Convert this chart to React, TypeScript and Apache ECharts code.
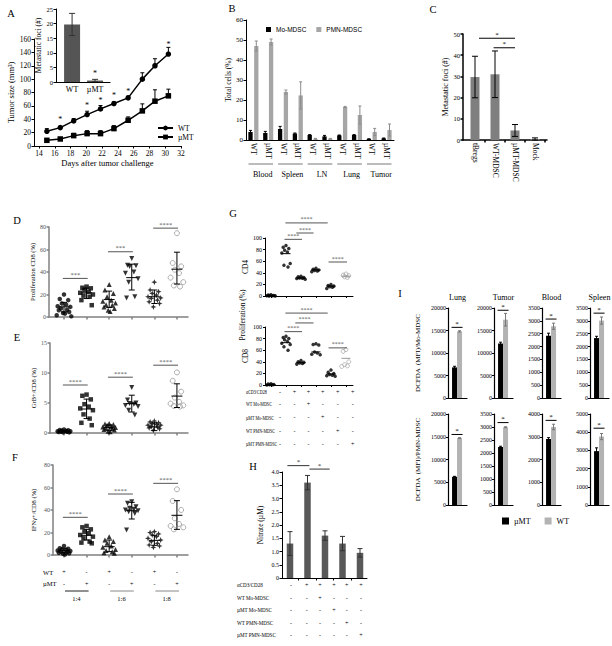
import React, { useEffect, useRef } from 'react';
import * as echarts from 'echarts';

const SERIF = '"Liberation Serif","Times New Roman",serif';
const SANS = '"Liberation Sans",Arial,sans-serif';

// ---------- Panel A ----------
const aDays = [15, 16.7, 18.4, 20.1, 21.8, 23.5, 25.3, 27.1, 28.7, 30.4];
const aWT = [22, 27.5, 37.5, 47, 55.5, 63.5, 72, 100, 120, 137.5];
const aWTErr = [4, 2, 3.5, 5, 5, 2.5, 2.5, 9.5, 10.5, 10];
const aMT = [8.5, 10.5, 15.5, 18.5, 18.5, 26, 38.5, 52.5, 67, 75];
const aMTErr = [1.5, 1.5, 3.5, 4.5, 4.5, 4.5, 5, 10.5, 17, 10];
const aStarDays = [16.7, 20.1, 21.8, 23.5, 25.3, 30.4];
const aStarY = [40, 60, 68.5, 75, 82, 152];
const aTicks = [14, 16, 18, 20, 22, 24, 26, 28, 30, 32];
const insetCats = ['WT', 'µMT'];
const insetVals = [19.7, 0.5];
const insetErr = [3.8, 0.4];

// ---------- Panel B ----------
const bLabels = ['WT', 'µMT', 'WT', 'µMT', 'WT', 'µMT', 'WT', 'µMT', 'WT', 'µMT'];
const bGroups = ['Blood', 'Spleen', 'LN', 'Lung', 'Tumor'];
const bMo = [4, 3.5, 5.5, 3.2, 2.5, 1.8, 2.3, 2.5, 0.5, 0.8];
const bMoErr = [0.8, 0.8, 1.3, 0.3, 0.2, 0.5, 0.2, 0.2, 0.1, 0.2];
const bPMN = [47, 49, 24, 22.3, 0.6, 0.6, 16.5, 12.5, 4, 5];
const bPMNErr = [2.5, 1.5, 1, 6.8, 0.2, 0.2, 0.3, 4.5, 1.8, 3];

// ---------- Panel C ----------
const cCats = ['tBregs', 'WT-MDSC', 'µMT-MDSC', 'Mock'];
const cVals = [29.7, 31, 4.5, 0.5];
const cErr = [9.8, 11, 2.8, 0.5];
const cSig = [[0.2, 2.0, 48], [0.93, 2.0, 43.5]];

// ---------- Panel D ----------
const dG = [
  [20, 16, 15, 12, 11, 9.5, 9, 7.5, 6.5, 6, 4.5, 3.5, 3, 1.5, 0.6],
  [27, 26, 25.5, 24, 22.5, 21.5, 20, 19, 18, 15, 10.5],
  [29, 24, 21, 18, 15, 14, 12.5, 11, 10.5, 9, 7.5, 6, 5],
  [52, 46, 45.5, 45, 40, 39, 34, 31, 18, 17],
  [31, 24, 22.5, 21, 19.5, 18, 17, 16.5, 15, 13.5, 12, 9],
  [74.5, 48, 45, 42, 39, 35, 31, 28, 27],
];
const dMean = [9, 21.5, 15.5, 35, 18, 42.5];
const dLo = [4.5, 16.4, 8.4, 24, 12, 29.3];
const dHi = [13, 25.7, 23, 47, 24, 57.6];
const dSig = [[0.95, 2.05, 34.3], [2.95, 4.05, 58], [4.95, 6.05, 79]];
const dSigLbl = ['***', '***', '****'];

// ---------- Panel E ----------
const eG = [
  [0.6, 0.5, 0.45, 0.4, 0.35, 0.3, 0.3, 0.25, 0.2, 0.15, 0.1, 0.1],
  [6.4, 6.2, 5.6, 4.8, 4.4, 4.1, 3.8, 3.1, 2.4, 1.7, 1.3],
  [1.6, 1.5, 1.4, 1.3, 1.1, 1.0, 0.9, 0.8, 0.7, 0.6, 0.5, 0.3, 0.2],
  [7.6, 5.5, 5.0, 4.9, 4.8, 4.6, 4.4, 3.8, 3.0],
  [2.0, 1.85, 1.7, 1.55, 1.45, 1.3, 1.3, 1.1, 1.0, 0.85, 0.7, 0.45],
  [10.1, 8.7, 6.9, 5.9, 5.2, 4.9, 4.6, 4.5, 4.4],
];
const eMean = [0.3, 4.0, 0.9, 4.9, 1.0, 6.15];
const eLo = [0.15, 2.4, 0.45, 3.5, 0.4, 4.25];
const eHi = [0.45, 5.65, 1.35, 6.3, 1.7, 8.2];
const eSig = [[0.95, 2.05, 8.0], [2.95, 4.05, 9.3], [4.95, 6.05, 11.3]];
const eSigLbl = ['****', '****', '****'];

// ---------- Panel F ----------
const fG = [
  [8, 6, 5.5, 5, 4.5, 4, 3.5, 3, 2.5, 2, 1.5, 1, 0.5],
  [25.8, 24.6, 22.8, 20.7, 19.3, 17.8, 16.3, 14.8, 11.9, 11, 10.4],
  [16.3, 13.3, 11.9, 10.4, 8, 6.8, 5, 3.9, 3, 2, 1.5],
  [47.4, 46, 43, 41.5, 40.6, 40, 39.4, 38.5, 37, 22.2],
  [20.7, 19.9, 18.7, 17.8, 16.3, 14.8, 13.3, 11.9, 10.4, 8.9, 8, 6.8],
  [58.4, 48, 40, 32.6, 27.6, 25.8, 24.6, 22.8],
];
const fMean = [3.9, 17.5, 7.4, 39.4, 13, 35.3];
const fLo = [2, 13.3, 3, 32, 8.6, 22.8];
const fHi = [6, 22.8, 13.3, 46.8, 17.5, 48.3];
const fSig = [[0.95, 2.05, 33.5], [2.95, 4.05, 54.2], [4.95, 6.05, 63.7]];
const fSigLbl = ['****', '****', '****'];
const fRowWT = ['+', '-', '+', '-', '+', '-'];
const fRowMT = ['-', '+', '-', '+', '-', '+'];
const fRatios = ['1:4', '1:6', '1:8'];

// ---------- Panel G ----------
const g4G = [[2, 1.5, 1, 0.8, 0.5, 0.3, 0.2, 0], [87, 84, 82, 79, 76, 74, 56, 53, 50], [34, 33, 32, 31, 30.5, 30, 29], [48, 46, 45, 44, 43, 42], [20, 18, 17, 16, 15, 13], [38, 36, 35, 33, 32]];
const g4Mean = [0.6, 73, 31, 45, 17, 34];
const g4Sig = [[1.9, 3.07, 97.7], [2.69, 3.84, 108.6], [1.96, 4.78, 126], [4.84, 6.07, 58.6]];
const g8G = [[2, 1.5, 1, 0.5, 0.3, 0], [84, 82, 80, 78, 75, 72, 70, 66, 60], [42, 40, 39, 38, 37, 36], [71, 70, 69, 57, 55, 53, 52], [26, 22, 20, 18, 17, 16, 15], [61, 58, 40, 35, 33, 32]];
const g8Mean = [0.8, 73, 38.5, 57, 19, 46];
const g8Sig = [[1.9, 3.07, 92], [2.62, 3.84, 107], [1.96, 4.78, 124], [4.84, 6.07, 64]];
const gSigLbl = ['****', '****', '****', '****'];
const tableRows = ['αCD3/CD28', 'WT Mo-MDSC', 'µMT Mo-MDSC', 'WT PMN-MDSC', 'µMT PMN-MDSC'];
const tableSigns = [
  ['-', '+', '+', '+', '+', '+'],
  ['-', '-', '+', '-', '-', '-'],
  ['-', '-', '-', '+', '-', '-'],
  ['-', '-', '-', '-', '+', '-'],
  ['-', '-', '-', '-', '-', '+'],
];

// ---------- Panel H ----------
const hVals = [1.3, 3.6, 1.6, 1.3, 0.95];
const hErr = [0.45, 0.27, 0.18, 0.27, 0.16];
const hSig = [[0.85, 2.11, 4.24], [2.11, 3.27, 4.11]];

// ---------- Panel I ----------
const iTissues = ['Lung', 'Tumor', 'Blood', 'Spleen'];
const iMoMT = [6800, 12100, 2420, 2330];
const iMoMTErr = [250, 300, 100, 70];
const iMoWT = [14800, 17400, 2790, 3010];
const iMoWTErr = [150, 1400, 120, 140];
const iMoSig = [15700, 19500, 3070, 3300];
const iMoMax = [20000, 20000, 3500, 3500];
const iMoInt = [5000, 5000, 500, 500];
const iPmnMT = [6200, 2230, 2900, 2960];
const iPmnMTErr = [100, 30, 60, 180];
const iPmnWT = [14700, 2990, 3430, 3760];
const iPmnWTErr = [100, 20, 120, 170];
const iPmnSig = [15500, 3170, 3720, 4220];
const iPmnMax = [20000, 3500, 4000, 5000];
const iPmnInt = [5000, 500, 1000, 1000];

const JIT = [0, -0.22, 0.22, -0.11, 0.11, -0.33, 0.33, -0.16, 0.16, -0.27, 0.27, -0.05, 0.05, -0.38, 0.38];
const STAR = 'path://M0,-10L2.8,-2.8L10,0L2.8,2.8L0,10L-2.8,2.8L-10,0L-2.8,-2.8Z';

function axis(o: any) {
  const color = o.color ?? '#000', lw = o.lw ?? 1, fs = o.fs ?? 7, lc = o.lc ?? '#000';
  const res: any = {
    type: 'value', min: o.min, max: o.max,
    axisLine: { show: o.line !== false, onZero: false, lineStyle: { color, width: lw } },
    axisTick: { show: o.tick !== false, length: o.tickLen ?? 2.5, inside: false, lineStyle: { color, width: lw } },
    axisLabel: { show: o.label !== false, fontFamily: SERIF, fontSize: fs, color: lc, margin: o.margin ?? 3 },
    splitLine: { show: false },
  };
  if (o.interval != null) res.interval = o.interval;
  if (o.ticks) res.axisTick.customValues = o.ticks;
  if (o.labels) res.axisLabel.customValues = o.labels;
  res.axisLabel.formatter = o.fmt ? o.fmt : (v: number) => String(v);
  if (o.rotate != null) res.axisLabel.rotate = o.rotate;
  if (o.name) {
    res.name = o.name; res.nameLocation = 'middle'; res.nameGap = o.nameGap;
    res.nameTextStyle = { fontFamily: SERIF, fontSize: o.nameFs ?? 8, color: '#000' };
  }
  return res;
}

function tstyle(text: string, fs: number, fill = '#000', align = 'center', va = 'middle', font = SERIF) {
  return { text, fontFamily: font, fontSize: fs, fill, align, textAlign: align, verticalAlign: va, textVerticalAlign: va };
}

function buildOption() {
  const grids: any[] = [], xA: any[] = [], yA: any[] = [], S: any[] = [], G: any[] = [];
  const add = (rect: any, x: any, y: any) => {
    const i = grids.length;
    grids.push({ ...rect });
    xA.push({ ...x, gridIndex: i });
    yA.push({ ...y, gridIndex: i });
    return i;
  };
  const txt = (x: number, y: number, text: string, fs: number, align = 'center', extra: any = {}) =>
    G.push({ type: 'text', x, y, silent: true, ...extra, style: tstyle(text, fs, extra.fill || '#000', align, 'middle', extra.font || SERIF) });
  const hline = (x1: number, x2: number, y: number, color = '#000', w = 1) =>
    G.push({ type: 'line', silent: true, shape: { x1, y1: y, x2, y2: y }, style: { stroke: color, lineWidth: w } });

  const barS = (name: string | undefined, g: number, pts: number[][], off: number, w: number, color: string) => ({
    type: 'custom', name, xAxisIndex: g, yAxisIndex: g, silent: true, clip: false, z: 2, data: pts,
    itemStyle: { color },
    renderItem: (p: any, api: any) => {
      const x = api.value(0), v = api.value(1);
      const a = api.coord([x, 0]), b = api.coord([x, v]);
      return { type: 'rect', shape: { x: a[0] + off - w / 2, y: b[1], width: w, height: a[1] - b[1] }, style: { fill: color } };
    },
  });
  const errS = (g: number, pts: number[][], o: any) => ({
    type: 'custom', xAxisIndex: g, yAxisIndex: g, silent: true, clip: false, z: 3, data: pts,
    renderItem: (p: any, api: any) => {
      const x = api.value(0), lo = api.value(1), hi = api.value(2);
      const a = api.coord([x, lo]), b = api.coord([x, hi]);
      const cx = a[0] + (o.off || 0);
      const st = { stroke: o.color, lineWidth: o.lw || 1 };
      const ch: any[] = [
        { type: 'line', shape: { x1: cx, y1: a[1], x2: cx, y2: b[1] }, style: st },
        { type: 'line', shape: { x1: cx - o.cap / 2, y1: b[1], x2: cx + o.cap / 2, y2: b[1] }, style: st },
      ];
      if (!o.upOnly) ch.push({ type: 'line', shape: { x1: cx - o.cap / 2, y1: a[1], x2: cx + o.cap / 2, y2: a[1] }, style: st });
      return { type: 'group', children: ch };
    },
  });
  const meanS = (g: number, pts: number[][], meanW: number, capW: number, withSD: boolean, colors: string[]) => ({
    type: 'custom', xAxisIndex: g, yAxisIndex: g, silent: true, clip: false, z: 4, data: pts,
    renderItem: (p: any, api: any) => {
      const x = api.value(0), m = api.value(1);
      const c = api.coord([x, m]);
      const st = { stroke: colors[p.dataIndex] || '#000', lineWidth: 1 };
      const ch: any[] = [{ type: 'line', shape: { x1: c[0] - meanW / 2, y1: c[1], x2: c[0] + meanW / 2, y2: c[1] }, style: st }];
      if (withSD) {
        const a = api.coord([x, api.value(2)]), b = api.coord([x, api.value(3)]);
        ch.push({ type: 'line', shape: { x1: c[0], y1: a[1], x2: c[0], y2: b[1] }, style: st });
        ch.push({ type: 'line', shape: { x1: c[0] - capW / 2, y1: a[1], x2: c[0] + capW / 2, y2: a[1] }, style: st });
        ch.push({ type: 'line', shape: { x1: c[0] - capW / 2, y1: b[1], x2: c[0] + capW / 2, y2: b[1] }, style: st });
      }
      return { type: 'group', children: ch };
    },
  });
  const sigS = (g: number, pts: number[][], labels: string[], o: any) => ({
    type: 'custom', xAxisIndex: g, yAxisIndex: g, silent: true, clip: false, z: 4, data: pts,
    renderItem: (p: any, api: any) => {
      const a = api.coord([api.value(0), api.value(2)]), b = api.coord([api.value(1), api.value(2)]);
      const ext = o.ext || 0;
      return {
        type: 'group', children: [
          { type: 'line', shape: { x1: a[0] - ext, y1: a[1], x2: b[0] + ext, y2: b[1] }, style: { stroke: o.color, lineWidth: o.lw || 1 } },
          { type: 'text', x: (a[0] + b[0]) / 2, y: a[1] - (o.dy ?? 0), style: tstyle(labels[p.dataIndex], o.fs, o.tc || o.color, 'center', 'bottom') },
        ],
      };
    },
  });
  const textS = (g: number, pts: number[][], text: string, fs: number) => ({
    type: 'custom', xAxisIndex: g, yAxisIndex: g, silent: true, clip: false, z: 4, data: pts,
    renderItem: (p: any, api: any) => {
      const c = api.coord([api.value(0), api.value(1)]);
      return { type: 'text', x: c[0], y: c[1], style: tstyle(text, fs) };
    },
  });
  const scatS = (g: number, pts: number[][], st: any) => ({
    type: 'scatter', xAxisIndex: g, yAxisIndex: g, silent: true, z: 3, data: pts,
    symbol: st.symbol, symbolSize: st.size, symbolRotate: st.rotate || 0,
    itemStyle: st.open ? { color: 'rgba(0,0,0,0)', borderColor: st.color, borderWidth: 1 } : { color: st.color || '#000' },
  });
  const jitter = (gx: number, vals: number[], sc: number) => vals.map((v, i) => [gx + JIT[i % JIT.length] * sc, v]);

  // ======== A ========
  const gA = add({ left: 34, top: 39, width: 147, height: 107 },
    axis({ min: 13.37, max: 32, ticks: aTicks, labels: aTicks, fs: 7.5, name: 'Days after tumor challenge', nameGap: 12, nameFs: 8.5 }),
    axis({ min: 0, max: 160, interval: 20, fs: 7.5, name: 'Tumor size (mm³)', nameGap: 16, nameFs: 8.5 }));
  S.push({ type: 'line', name: 'WT', xAxisIndex: gA, yAxisIndex: gA, data: aDays.map((d, i) => [d, aWT[i]]), symbol: 'circle', symbolSize: 5.5, itemStyle: { color: '#000' }, lineStyle: { color: '#000', width: 1.5 }, z: 3 });
  S.push({ type: 'line', name: 'µMT', xAxisIndex: gA, yAxisIndex: gA, data: aDays.map((d, i) => [d, aMT[i]]), symbol: 'rect', symbolSize: 5.5, itemStyle: { color: '#000' }, lineStyle: { color: '#000', width: 1.5 }, z: 3 });
  S.push(errS(gA, aDays.map((d, i) => [d, aWT[i], aWT[i] + aWTErr[i]]), { cap: 4, color: '#000', upOnly: true }));
  S.push(errS(gA, aDays.map((d, i) => [d, aMT[i], aMT[i] + aMTErr[i]]), { cap: 4, color: '#000', upOnly: true }));
  S.push(textS(gA, aStarDays.map((d, i) => [d, aStarY[i]]), '*', 8));

  const gIn = add({ left: 56, top: 9, width: 54, height: 73 },
    axis({ min: 0.3, max: 2.65, tick: false, labels: [1, 2], fmt: (v: number) => insetCats[Math.round(v) - 1], fs: 8 }),
    axis({ min: 0, max: 25, interval: 5, fs: 6.5, name: 'Metastatic foci (#)', nameGap: 10, nameFs: 7.5 }));
  S.push(barS(undefined, gIn, insetVals.map((v, i) => [i + 1, v]), 0, 16, '#555'));
  S.push(errS(gIn, insetVals.map((v, i) => [i + 1, v - insetErr[i], v + insetErr[i]]), { cap: 6, color: '#333' }));
  S.push(textS(gIn, [[2, 3]], '*', 8));

  // ======== B ========
  const bX = bLabels.map((_, i) => i + 1);
  const gB = add({ left: 246, top: 20, width: 148, height: 120 },
    axis({ min: 0.5, max: 10.5, tick: false, labels: bX, fmt: (v: number) => bLabels[Math.round(v) - 1], rotate: -90, fs: 7.5 }),
    axis({ min: 0, max: 60, interval: 10, fs: 7, name: 'Total cells (%)', nameGap: 10, nameFs: 7.5 }));
  S.push(barS('Mo-MDSC', gB, bX.map((x, i) => [x, bMo[i]]), -2.9, 4.3, '#000'));
  S.push(barS('PMN-MDSC', gB, bX.map((x, i) => [x, bPMN[i]]), 2.9, 4.3, '#a6a6a6'));
  S.push(errS(gB, bX.map((x, i) => [x, bMo[i] - bMoErr[i], bMo[i] + bMoErr[i]]), { off: -2.9, cap: 3, color: '#000' }));
  S.push(errS(gB, bX.map((x, i) => [x, bPMN[i] - bPMNErr[i], bPMN[i] + bPMNErr[i]]), { off: 2.9, cap: 3, color: '#8c8c8c' }));
  const bpx = (v: number) => 246 + (v - 0.5) / 10 * 148;
  bGroups.forEach((name, k) => {
    hline(bpx(2 * k + 0.5) + 2.5, bpx(2 * k + 2.5) - 2.5, 164, '#555', 0.8);
    txt(bpx(2 * k + 1.5) + 2, 174, name, 8);
  });

  // ======== C ========
  const gC = add({ left: 463, top: 34, width: 84, height: 106 },
    axis({ min: -0.6, max: 3.6, ticks: [0.5, 1.5, 2.5, 3.5], labels: [0, 1, 2, 3], fmt: (v: number) => cCats[Math.round(v)], rotate: -90, fs: 7.5, lw: 1.5 }),
    axis({ min: 0, max: 50, interval: 10, fs: 6.5, lw: 1.5, name: 'Metastatic foci (#)', nameGap: 13, nameFs: 8 }));
  S.push(barS(undefined, gC, cVals.map((v, i) => [i, v]), 0, 9, '#7f7f7f'));
  S.push(errS(gC, cVals.map((v, i) => [i, Math.max(0, v - cErr[i]), v + cErr[i]]), { cap: 6, color: '#000' }));
  S.push(sigS(gC, cSig, ['*', '*'], { color: '#000', fs: 7, dy: 0 }));

  // ======== D / E / F ========
  const dStyles = [
    { symbol: 'circle', size: 4.5 },
    { symbol: 'rect', size: 4.5 },
    { symbol: 'triangle', size: 5 },
    { symbol: 'triangle', size: 5, rotate: 180 },
    { symbol: STAR, size: 6 },
    { symbol: 'circle', size: 5, open: true, color: '#999' },
  ];
  const scatterPanel = (left: number, top: number, yMax: number, yInt: number, pts: number[][], mean: number[], lo: number[], hi: number[], sig: number[][], sigLbl: string[], name: string, nameGap: number) => {
    const xmin = 1 - (64 - left) / 22.6;
    const g = add({ left, top, width: 188 - left, height: 90 },
      axis({ min: xmin, max: 6.49, ticks: [1, 2, 3, 4, 5, 6], label: false, color: '#808080', lw: 1.5 }),
      axis({ min: 0, max: yMax, interval: yInt, fs: 6, color: '#808080', lw: 1.5, lc: '#555', name, nameGap, nameFs: 6.5 }));
    pts.forEach((vals, k) => S.push(scatS(g, jitter(k + 1, vals, 0.85), dStyles[k])));
    S.push(meanS(g, mean.map((m, k) => [k + 1, m, lo[k], hi[k]]), 11, 6, true, ['#000', '#000', '#000', '#000', '#000', '#000']));
    S.push(sigS(g, sig, sigLbl, { color: '#555', fs: 6.5, dy: 0.5 }));
    return g;
  };
  scatterPanel(49, 227, 80, 20, dG, dMean, dLo, dHi, dSig, dSigLbl, 'Proliferation CD8 (%)', 12);
  scatterPanel(50, 343, 15, 5, eG, eMean, eLo, eHi, eSig, eSigLbl, 'GrB+/CD8 (%)', 11.5);
  scatterPanel(53, 465, 80, 20, fG, fMean, fLo, fHi, fSig, fSigLbl, 'IFNγ+/CD8 (%)', 16);
  const fpx = (v: number) => 64 + (v - 1) * 22.6;
  txt(43, 572, 'WT', 6.5, 'left');
  txt(43, 583.5, 'µMT', 6.5, 'left');
  fRowWT.forEach((s, k) => txt(fpx(k + 1), 572, s, 6));
  fRowMT.forEach((s, k) => txt(fpx(k + 1), 583.5, s, 6));
  fRatios.forEach((r, k) => {
    hline(fpx(2 * k + 1) + 1, fpx(2 * k + 2) + 2, 591, k === 0 ? '#222' : '#888', 1);
    txt((fpx(2 * k + 1) + fpx(2 * k + 2)) / 2 + 1, 598.5, r, 6.5);
  });

  // ======== G ========
  const gStyles = [0, 1, 2, 3, 4].map(() => ({ symbol: 'circle', size: 3.5 })).concat([{ symbol: 'circle', size: 4, open: true, color: '#aaa' } as any]);
  const gPanel = (top: number, pts: number[][], mean: number[], sig: number[][], name: string) => {
    const g = add({ left: 265, top, width: 88, height: 58 },
      axis({ min: 0.6, max: 6.47, ticks: [1, 2, 3, 4, 5, 6], label: false, tickLen: 2 }),
      axis({ min: 0, max: 100, interval: 20, fs: 6, tickLen: 2, name, nameGap: 7, nameFs: 7.5 }));
    pts.forEach((vals, k) => S.push(scatS(g, jitter(k + 1, vals, 0.85), gStyles[k])));
    S.push(meanS(g, mean.map((m, k) => [k + 1, m]), 9, 0, false, ['#000', '#000', '#000', '#000', '#000', '#999']));
    S.push(sigS(g, sig, gSigLbl, { color: '#555', fs: 6, dy: 0.5 }));
  };
  gPanel(238, g4G, g4Mean, g4Sig, 'CD4');
  gPanel(327, g8G, g8Mean, g8Sig, 'CD8');
  G.push({ type: 'text', x: 242, y: 315, rotation: Math.PI / 2, silent: true, style: tstyle('Proliferation (%)', 7.5) });
  const gCols = [280, 294.5, 308.5, 322.8, 337.7, 352.7];
  const gRows = [391.7, 404, 417.3, 430.7, 444];
  tableRows.forEach((r, ri) => {
    txt(246, gRows[ri], r, 6, 'left', { scaleX: 0.68 });
    tableSigns[ri].forEach((s, ci) => txt(gCols[ci], gRows[ri], s, 6));
  });

  // ======== H ========
  const hX = hVals.map((_, i) => i + 1);
  const gH = add({ left: 282, top: 472, width: 85, height: 106 },
    axis({ min: 0.543, max: 5.4, ticks: [1.5, 2.5, 3.5, 4.5], label: false, tickLen: 2.5 }),
    axis({ min: 0, max: 4, interval: 0.5, fs: 6, fmt: (v: number) => (v === 0 ? '0' : v.toFixed(1)), name: 'Nitrate (µM)', nameGap: 18, nameFs: 7.5 }));
  S.push(barS(undefined, gH, hX.map((x, i) => [x, hVals[i]]), 0, 6.5, '#595959'));
  S.push(errS(gH, hX.map((x, i) => [x, hVals[i] - hErr[i], hVals[i] + hErr[i]]), { cap: 5, color: '#333' }));
  S.push(sigS(gH, hSig, ['*', '*'], { color: '#333', fs: 7, dy: 0 }));
  const hCols = [291, 306.7, 320, 334, 346.7, 361];
  const hRows = [585, 597.5, 610, 622.5, 635];
  tableRows.forEach((r, ri) => {
    txt(237, hRows[ri], r, 6, 'left', { scaleX: 0.85 });
    tableSigns[ri].forEach((s, ci) => txt(hCols[ci], hRows[ri], s, 6));
  });

  // ======== I ========
  const iLefts = [448, 494, 542, 590];
  const iPanel = (left: number, top: number, height: number, max: number, interval: number, mt: number, mtErr: number, wt: number, wtErr: number, sigY: number, name?: string) => {
    const g = add({ left, top, width: 19, height },
      axis({ min: 0, max: 2.1, tick: false, label: false, lw: 1.2 }),
      axis({ min: 0, max, interval, fs: 6, tickLen: 2, lw: 1.2, margin: 2, name, nameGap: 27, nameFs: 7 }));
    S.push(barS('I-µMT', g, [[1, mt]], -2.5, 5, '#000'));
    S.push(barS('I-WT', g, [[1, wt]], 2.5, 5, '#b3b3b3'));
    S.push(errS(g, [[1, mt - mtErr, mt + mtErr]], { off: -2.5, cap: 3, color: '#000' }));
    S.push(errS(g, [[1, wt - wtErr, wt + wtErr]], { off: 2.5, cap: 3, color: '#777' }));
    S.push(sigS(g, [[1, 1, sigY]], ['*'], { ext: 5.5, color: '#000', fs: 7, dy: 0 }));
  };
  iTissues.forEach((t, k) => {
    iPanel(iLefts[k], 308, 90, iMoMax[k], iMoInt[k], iMoMT[k], iMoMTErr[k], iMoWT[k], iMoWTErr[k], iMoSig[k], k === 0 ? 'DCFDA  (MFI)/Mo-MDSC' : undefined);
    iPanel(iLefts[k], 414, 91, iPmnMax[k], iPmnInt[k], iPmnMT[k], iPmnMTErr[k], iPmnWT[k], iPmnWTErr[k], iPmnSig[k], k === 0 ? 'DCFDA  (MFI)/PMN-MDSC' : undefined);
    txt(iLefts[k] + 9.5, 297, t, 8);
  });

  // panel letters
  const letters: [string, number, number][] = [['A', 11, 13], ['B', 232, 8], ['C', 433, 9], ['D', 17, 220], ['E', 17, 337], ['F', 15, 457], ['G', 233, 213], ['H', 253, 466], ['I', 400, 293]];
  letters.forEach(([l, x, y]) => txt(x, y, l, 10.5));

  return {
    animation: false,
    backgroundColor: '#fff',
    textStyle: { fontFamily: SERIF },
    grid: grids,
    xAxis: xA,
    yAxis: yA,
    legend: [
      { data: ['WT', 'µMT'], orient: 'vertical', left: 152, top: 119, itemWidth: 15, itemHeight: 6, itemGap: 1, selectedMode: false, textStyle: { fontFamily: SERIF, fontSize: 7.5, color: '#000' } },
      { data: ['Mo-MDSC', 'PMN-MDSC'], left: 261, top: 21, icon: 'rect', itemWidth: 5, itemHeight: 5, itemGap: 10, selectedMode: false, textStyle: { fontFamily: SANS, fontSize: 6.5, color: '#000' } },
      { data: ['I-µMT', 'I-WT'], formatter: (n: string) => n.slice(2), left: 497, top: 512, icon: 'rect', itemWidth: 7, itemHeight: 7, itemGap: 14, selectedMode: false, textStyle: { fontFamily: SERIF, fontSize: 8, color: '#000' } },
    ],
    series: S,
    graphic: G,
  };
}

export default function App() {
  const ref = useRef<HTMLDivElement>(null);
  useEffect(() => {
    const chart = echarts.init(ref.current!, null, { renderer: 'svg', width: 612, height: 646 });
    chart.setOption(buildOption() as any);
    return () => chart.dispose();
  }, []);
  return <div ref={ref} style={{ position: 'fixed', left: 0, top: 0, width: 612, height: 646, background: '#fff' }} />;
}
